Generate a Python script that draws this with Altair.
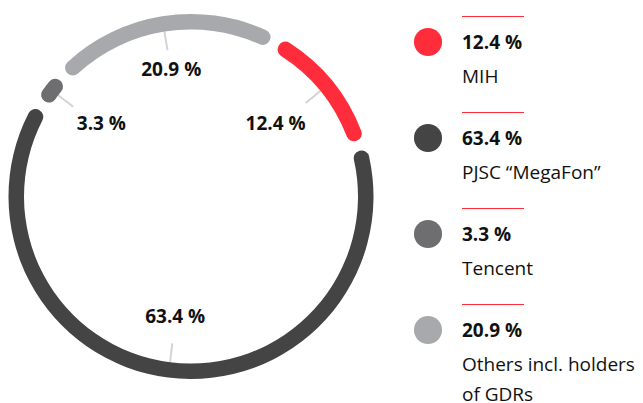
import altair as alt
import pandas as pd

# ---- data ----
names = ["MIH", "PJSC “MegaFon”", "Tencent", "Others incl. holders of GDRs"]
legend_names = ["MIH", "PJSC “MegaFon”", "Tencent", "Others incl. holders\nof GDRs"]
values = [12.4, 63.4, 3.3, 20.9]
pct_labels = ["12.4 %", "63.4 %", "3.3 %", "20.9 %"]
colors = ["#ff2d3c", "#444444", "#6e6e70", "#a8a9ac"]

df = pd.DataFrame({
    "idx": list(range(len(names))),
    "name": names,
    "legend_name": legend_names,
    "value": values,
    "pct": pct_labels,
    "color": colors,
})

# ---- geometry / style ----
W, H = 627, 395
CX, CY = 183, 188.5
R_OUT, R_IN = 182.5, 167
OFF = 0.497  # start angle (rad) of the first segment, clockwise from top
FONT = "Open Sans"
RED = "#ff2d3c"

base = (
    alt.Chart(df)
    .transform_joinaggregate(total="sum(value)")
    .transform_window(cum="sum(value)", sort=[alt.SortField("idx")], frame=[None, 0])
    .transform_calculate(
        t0=f"{OFF} + 2*PI*(datum.cum - datum.value)/datum.total",
        t1=f"{OFF} + 2*PI*datum.cum/datum.total",
    )
    .transform_calculate(mid="(datum.t0 + datum.t1)/2")
    .transform_calculate(
        tx1=f"{CX} + 172*sin(datum.mid)",
        ty1=f"{CY} - 172*cos(datum.mid)",
        tx2=f"{CX} + 148*sin(datum.mid)",
        ty2=f"{CY} - 148*cos(datum.mid)",
        rl="137 - (abs(sin(datum.mid))*length(datum.pct)*4.9 + abs(cos(datum.mid))*8)",
    )
    .transform_calculate(
        lx=f"{CX} + datum.rl*sin(datum.mid)",
        ly=f"{CY} - datum.rl*cos(datum.mid)",
    )
)

ticks = base.mark_rule(color="#d4d4d4", strokeWidth=2).encode(
    x=alt.X("tx1:Q", scale=None),
    y=alt.Y("ty1:Q", scale=None),
    x2="tx2:Q",
    y2="ty2:Q",
)

arcs = base.mark_arc(
    radius=R_OUT, radius2=R_IN, cornerRadius=7.5, padAngle=0.042
).encode(
    theta=alt.Theta("t0:Q", scale=None),
    theta2="t1:Q",
    color=alt.Color("color:N", scale=None),
    x=alt.value(CX),
    y=alt.value(CY),
)

labels = base.mark_text(
    font=FONT, fontSize=19, fontWeight="bold", color="#111111",
    align="center", baseline="middle", dy=-4,
).encode(
    x=alt.X("lx:Q", scale=None),
    y=alt.Y("ly:Q", scale=None),
    text="pct:N",
)

# ---- legend ----
def yscale(r0, r1):
    return alt.Y(
        "name:N",
        sort=names,
        scale=alt.Scale(type="point", domain=names, range=[r0, r1], padding=0),
        axis=None,
    )

leg_lines = alt.Chart(df).mark_rule(color=RED, strokeWidth=1).encode(
    x=alt.value(454), x2=alt.value(516), y=yscale(8.5, 296.5)
)

leg_dots = alt.Chart(df).mark_circle(size=790, opacity=1).encode(
    x=alt.value(420),
    y=yscale(34, 322),
    color=alt.Color("color:N", scale=None),
)

leg_pct = alt.Chart(df).mark_text(
    font=FONT, fontSize=19, fontWeight="bold", color="#111111",
    align="left", baseline="alphabetic", dy=7,
).encode(x=alt.value(454), y=yscale(34, 322), text="pct:N")

leg_name = alt.Chart(df).mark_text(
    font=FONT, fontSize=19, color="#111111",
    align="left", baseline="alphabetic", dy=41, lineBreak="\n", lineHeight=30,
).encode(x=alt.value(454), y=yscale(34, 322), text="legend_name:N")

chart = (
    alt.layer(ticks, arcs, labels, leg_lines, leg_dots, leg_pct, leg_name)
    .resolve_scale(y="independent", x="independent")
    .properties(width=W, height=H, autosize=alt.AutoSizeParams(type="none"), padding=0)
    .configure_view(stroke=None)
)

chart.save("out.html", embed_options={"renderer": "svg", "actions": False})
